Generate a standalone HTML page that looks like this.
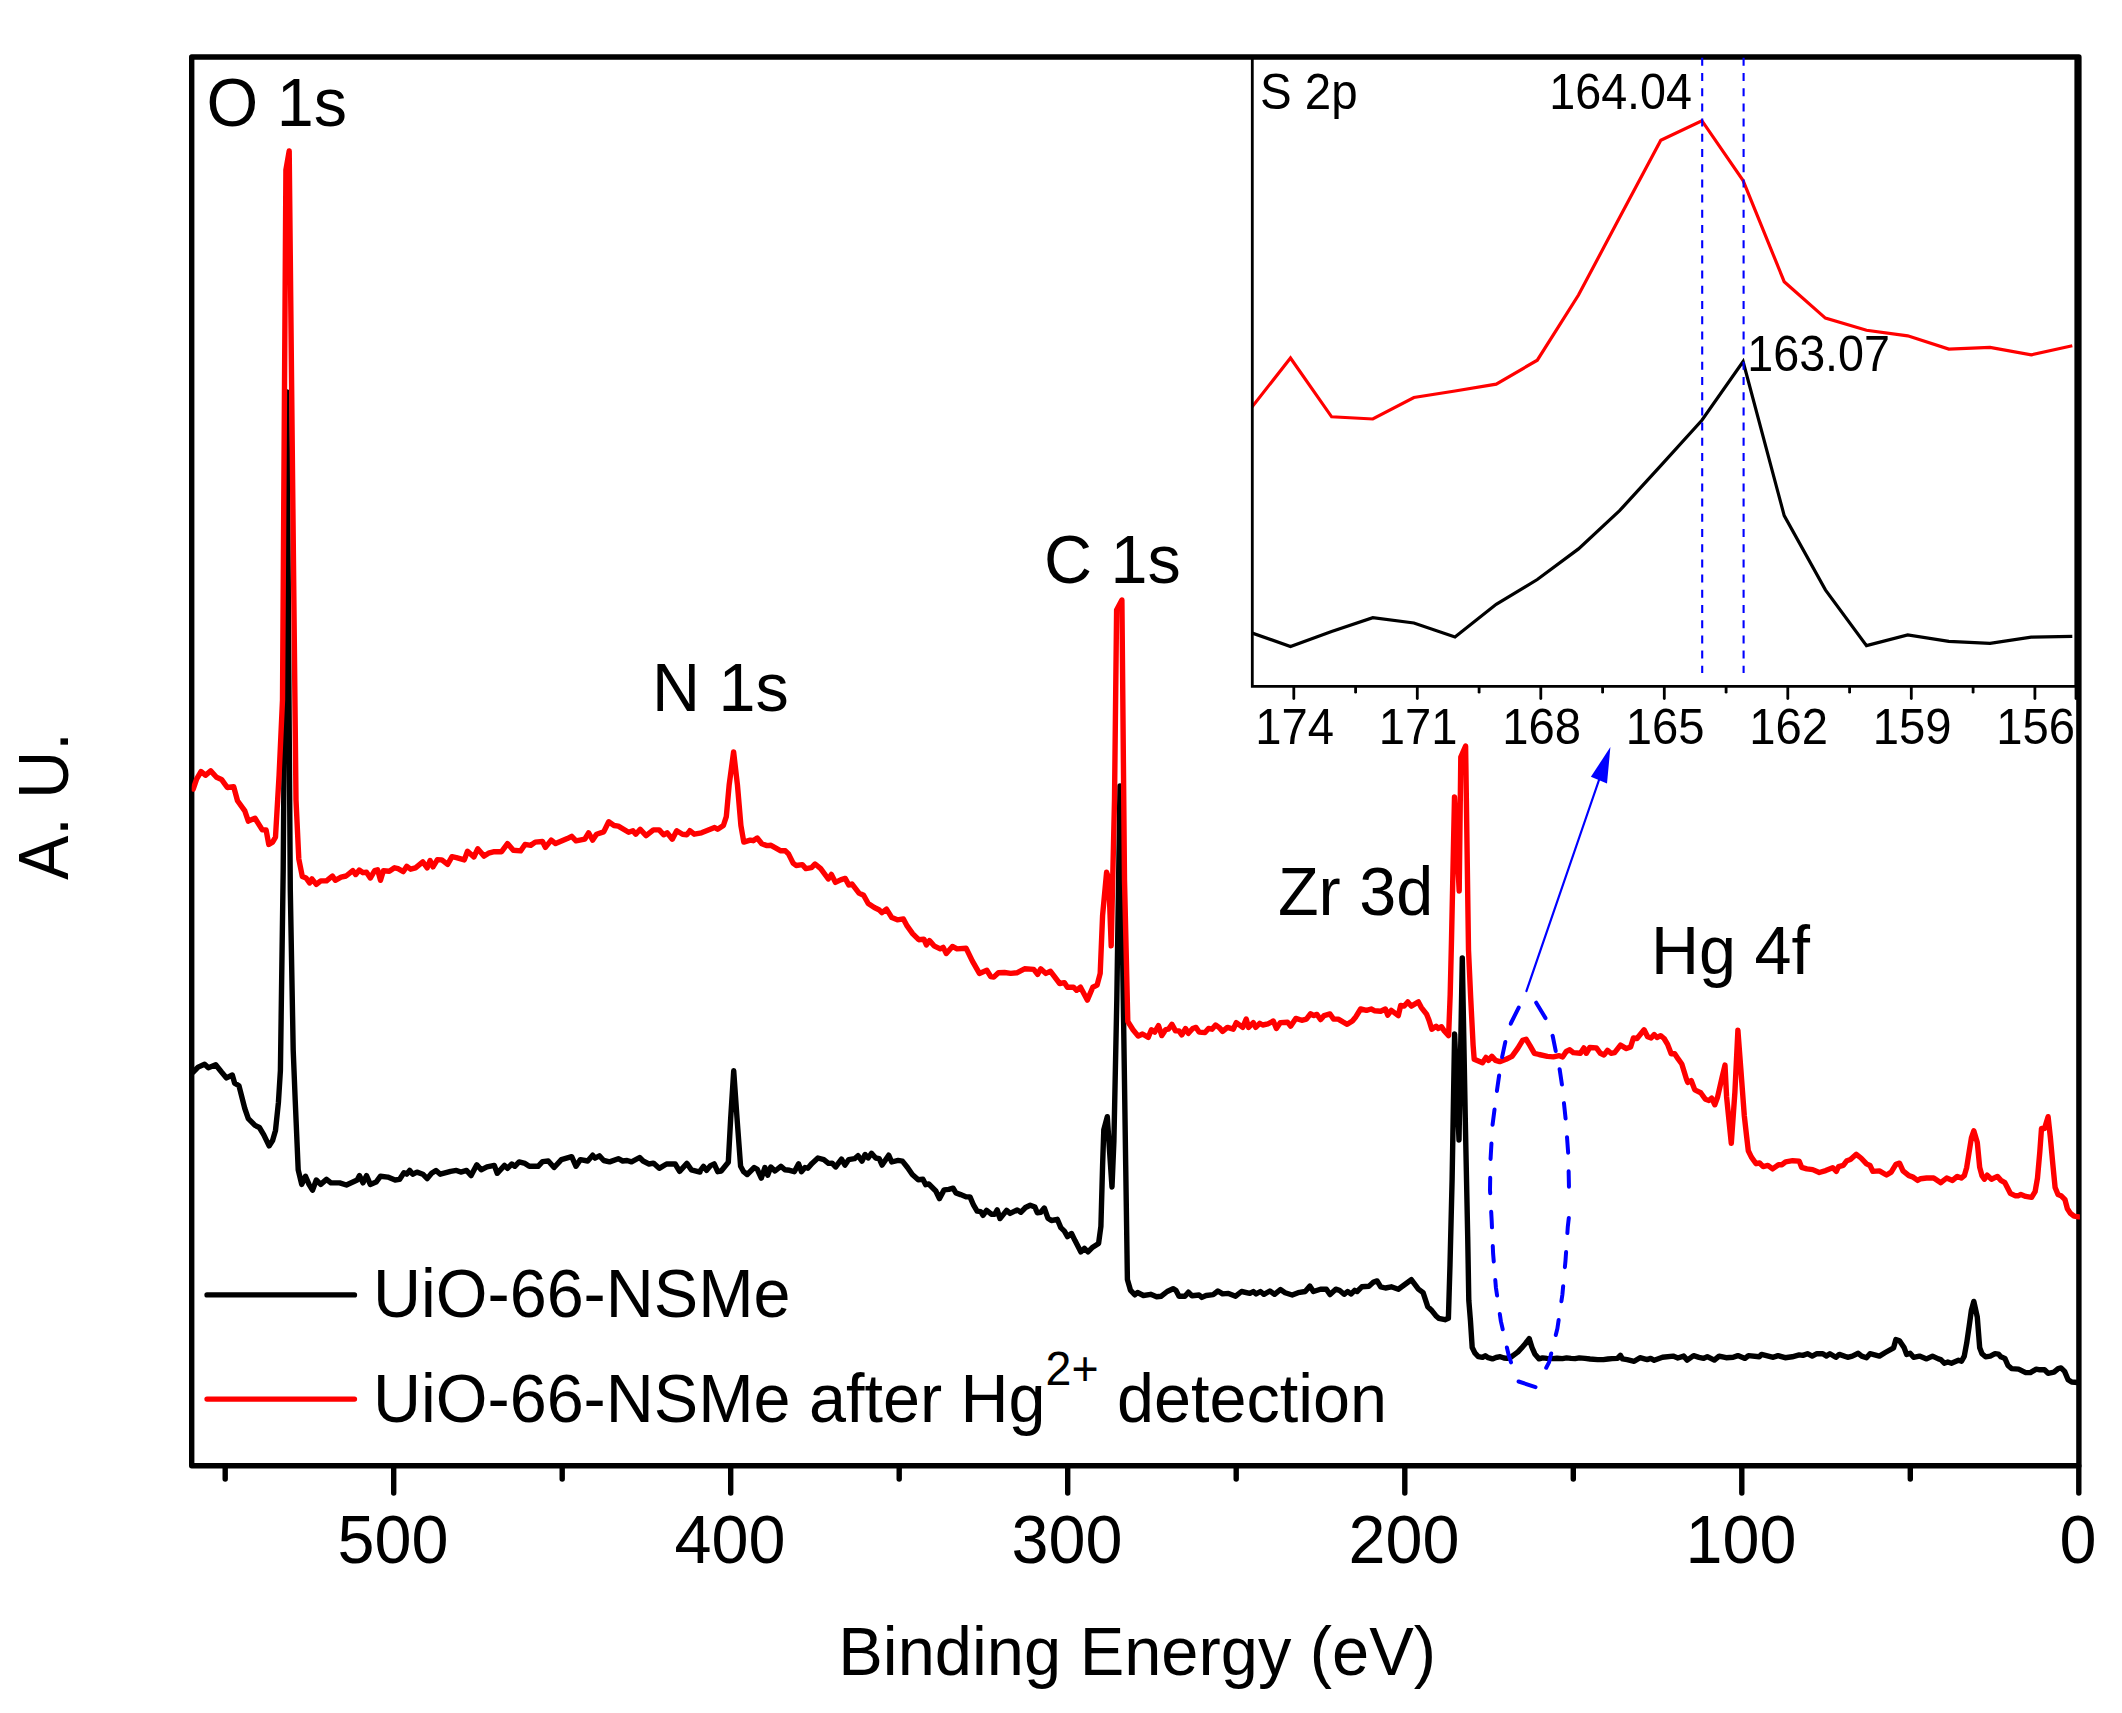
<!DOCTYPE html>
<html><head><meta charset="utf-8"><title>XPS survey</title>
<style>html,body{margin:0;padding:0;background:#fff}svg{display:block}text{font-family:"Liberation Sans",sans-serif;fill:#000}</style></head><body>
<svg width="2122" height="1713" viewBox="0 0 2122 1713">
<rect width="2122" height="1713" fill="#fff"/>
<g stroke="#000" stroke-width="5.4" fill="none" stroke-linecap="round" stroke-linejoin="round">
<rect x="191.7" y="57" width="1887.2" height="1408.8"/>
<line x1="393.7" y1="1466" x2="393.7" y2="1493"/>
<line x1="730.7" y1="1466" x2="730.7" y2="1493"/>
<line x1="1067.7" y1="1466" x2="1067.7" y2="1493"/>
<line x1="1404.8" y1="1466" x2="1404.8" y2="1493"/>
<line x1="1741.8" y1="1466" x2="1741.8" y2="1493"/>
<line x1="2078.8" y1="1466" x2="2078.8" y2="1493"/>
<line x1="225.2" y1="1466" x2="225.2" y2="1479"/>
<line x1="562.2" y1="1466" x2="562.2" y2="1479"/>
<line x1="899.2" y1="1466" x2="899.2" y2="1479"/>
<line x1="1236.2" y1="1466" x2="1236.2" y2="1479"/>
<line x1="1573.3" y1="1466" x2="1573.3" y2="1479"/>
<line x1="1910.3" y1="1466" x2="1910.3" y2="1479"/>
</g>
<clipPath id="c"><rect x="191.7" y="57" width="1888.2" height="1409"/></clipPath>
<g clip-path="url(#c)" fill="none" stroke-linejoin="round" stroke-linecap="round" stroke-width="5.4">
<polyline stroke="#000" points="193.2,1072.0 198.1,1067.1 204.6,1064.2 208.4,1067.7 215.7,1064.8 221.5,1072.0 226.5,1077.9 232.3,1075.0 234.6,1083.1 239.0,1085.8 244.8,1108.5 248.3,1118.7 255.0,1125.4 259.4,1127.5 263.8,1134.8 269.1,1145.9 272.6,1140.6 275.5,1130.4 278.4,1102.7 280.4,1070.6 283.2,870.0 286.9,392.0 290.3,890.0 293.2,1050.0 295.2,1100.0 298.2,1169.8 301.7,1184.4 305.5,1176.2 309.0,1184.4 312.5,1190.2 316.3,1180.0 320.7,1184.4 326.5,1179.4 330.9,1182.9 339.7,1182.9 346.4,1185.0 357.2,1180.0 359.5,1175.6 363.0,1182.9 366.5,1175.6 370.3,1184.4 376.1,1182.1 380.5,1176.2 387.8,1177.1 395.1,1180.0 399.5,1179.4 403.9,1172.7 406.8,1174.2 409.7,1170.4 412.6,1174.2 417.0,1172.1 422.8,1174.2 427.2,1178.6 431.6,1173.3 436.0,1170.4 440.3,1174.2 450.6,1171.3 456.4,1170.4 460.8,1172.1 466.6,1170.4 471.0,1175.6 476.8,1164.8 481.2,1169.8 487.0,1166.9 494.3,1165.4 497.2,1173.3 504.5,1165.4 507.5,1168.3 511.8,1164.0 514.8,1166.3 519.1,1161.9 525.0,1163.4 529.3,1166.3 538.1,1166.3 542.5,1161.6 548.3,1161.0 554.1,1167.5 561.4,1159.6 571.7,1156.7 576.0,1166.3 580.4,1159.6 587.7,1161.0 592.7,1155.2 595.0,1158.1 599.4,1155.8 603.7,1160.5 609.6,1161.9 618.3,1158.7 622.7,1161.0 627.1,1160.5 631.5,1161.9 639.6,1157.5 643.1,1161.0 649.0,1164.0 653.4,1163.1 659.2,1168.3 666.5,1164.0 675.2,1164.0 679.6,1171.3 686.9,1163.4 691.3,1169.8 700.0,1172.1 700.0,1171.0 703.5,1166.3 706.6,1170.3 710.6,1165.6 714.2,1163.9 717.7,1171.7 721.2,1171.0 728.3,1162.3 730.7,1117.9 733.7,1070.8 737.0,1117.9 740.6,1166.3 743.6,1171.7 747.2,1174.5 754.2,1167.5 757.3,1169.3 761.3,1178.1 764.9,1167.5 767.7,1175.2 770.8,1167.0 775.0,1171.0 780.9,1166.3 784.9,1169.8 789.6,1170.3 794.3,1171.7 798.6,1163.9 801.4,1171.7 805.0,1167.5 807.8,1168.2 812.0,1163.4 817.9,1158.0 823.8,1159.7 828.5,1163.4 832.1,1163.2 835.6,1167.0 841.5,1159.2 845.0,1165.1 848.6,1159.7 854.5,1158.7 858.0,1155.7 862.0,1161.1 865.1,1154.5 868.2,1158.0 871.5,1153.3 875.7,1158.0 879.2,1158.7 882.1,1165.1 888.7,1155.2 891.7,1162.0 898.1,1160.4 902.4,1161.1 907.5,1167.5 912.3,1174.5 918.2,1179.7 922.9,1179.2 925.7,1184.7 928.8,1184.0 935.8,1191.0 939.4,1198.6 944.1,1189.9 948.8,1189.4 953.1,1188.2 955.9,1192.9 960.6,1194.6 966.5,1196.9 970.0,1196.9 973.6,1205.2 977.1,1211.1 980.7,1211.6 983.0,1215.3 986.6,1210.4 991.3,1214.2 994.8,1214.2 997.2,1209.9 1000.0,1218.6 1006.6,1210.4 1010.1,1213.4 1017.2,1209.9 1020.8,1212.3 1025.5,1207.5 1030.2,1205.2 1034.9,1207.1 1037.3,1212.7 1040.8,1212.3 1044.3,1208.0 1047.9,1218.2 1051.4,1220.5 1057.3,1219.3 1060.8,1227.6 1064.4,1231.1 1067.5,1236.6 1071.5,1233.5 1075.0,1240.6 1080.9,1251.9 1084.4,1248.3 1088.0,1251.9 1092.7,1247.2 1098.6,1243.4 1100.9,1226.4 1102.6,1165.1 1103.8,1129.7 1107.3,1116.7 1109.7,1153.3 1112.0,1187.0 1113.9,1141.5 1116.8,1000.0 1120.0,786.0 1123.3,1000.0 1125.7,1165.1 1127.4,1279.5 1130.4,1290.1 1134.7,1294.8 1137.5,1292.5 1143.4,1295.5 1150.7,1294.3 1156.6,1296.7 1161.3,1296.2 1167.2,1291.5 1173.1,1288.7 1175.9,1290.3 1179.0,1296.2 1184.9,1296.2 1188.4,1292.2 1192.0,1295.8 1199.1,1295.0 1201.9,1297.4 1206.1,1295.5 1213.2,1294.6 1217.9,1291.0 1222.6,1293.9 1228.5,1293.4 1235.6,1296.2 1241.5,1291.5 1249.8,1293.4 1253.3,1291.5 1256.1,1293.9 1260.4,1291.5 1263.9,1294.3 1269.8,1291.0 1274.5,1294.3 1280.4,1289.6 1285.1,1292.7 1292.2,1295.0 1298.1,1292.7 1305.2,1291.5 1309.9,1286.1 1313.4,1291.5 1320.5,1289.2 1326.4,1289.2 1330.0,1294.6 1335.8,1289.2 1339.4,1290.3 1344.1,1294.3 1347.6,1291.5 1351.2,1293.9 1354.7,1290.3 1357.1,1291.5 1361.8,1286.8 1368.9,1286.3 1373.6,1282.1 1377.1,1280.9 1380.7,1286.8 1385.4,1288.0 1391.3,1286.8 1398.3,1289.2 1411.3,1279.7 1418.4,1289.2 1423.1,1292.7 1427.8,1306.8 1432.0,1310.8 1435.8,1315.7 1438.7,1318.3 1445.0,1319.7 1448.4,1318.3 1450.0,1264.8 1452.1,1180.0 1454.6,1034.0 1459.0,1140.0 1462.3,958.0 1465.5,1130.0 1467.7,1236.6 1468.8,1300.2 1470.5,1321.4 1472.2,1347.5 1475.0,1353.2 1478.3,1356.7 1482.5,1357.4 1485.3,1355.7 1488.2,1357.7 1492.4,1358.9 1496.0,1357.5 1500.2,1356.7 1504.0,1358.0 1507.2,1358.4 1511.0,1357.0 1514.3,1354.6 1518.0,1351.8 1521.4,1348.2 1525.5,1343.5 1529.2,1338.6 1532.0,1347.5 1534.8,1353.9 1539.1,1358.9 1542.6,1357.9 1547.0,1358.4 1552.5,1358.6 1557.0,1358.2 1562.4,1358.6 1566.6,1357.9 1571.0,1358.4 1575.1,1358.6 1579.3,1357.9 1585.0,1358.4 1590.0,1359.0 1597.7,1359.6 1603.4,1359.6 1608.0,1359.0 1612.0,1358.6 1617.5,1358.4 1620.4,1355.3 1622.5,1358.9 1627.1,1359.6 1634.2,1361.3 1640.0,1357.7 1647.1,1359.6 1650.7,1358.4 1654.2,1360.3 1662.5,1357.3 1673.1,1356.1 1677.8,1358.0 1683.7,1356.1 1687.2,1360.1 1693.6,1355.6 1699.0,1357.3 1703.7,1358.4 1707.3,1356.6 1714.3,1360.1 1719.1,1356.1 1726.1,1357.7 1733.2,1357.3 1737.9,1355.6 1745.0,1358.4 1748.5,1355.6 1759.2,1356.8 1761.5,1354.4 1773.3,1357.3 1778.0,1355.6 1785.1,1357.7 1792.2,1356.8 1799.2,1354.9 1802.8,1355.4 1807.5,1353.7 1812.2,1356.1 1816.9,1353.7 1822.8,1353.7 1826.4,1356.1 1829.9,1353.7 1835.8,1357.3 1839.3,1354.4 1847.6,1357.3 1852.3,1356.1 1858.2,1353.3 1861.7,1356.1 1866.5,1357.7 1870.0,1353.7 1879.4,1356.1 1885.3,1352.5 1893.6,1347.8 1895.9,1339.6 1899.5,1340.8 1904.2,1347.8 1906.6,1354.4 1910.1,1353.3 1913.6,1357.3 1919.5,1356.1 1926.6,1358.9 1932.5,1356.1 1938.4,1358.9 1940.8,1359.6 1944.3,1363.2 1947.8,1362.0 1951.4,1363.2 1958.4,1360.3 1961.5,1361.3 1964.3,1356.1 1966.7,1343.1 1969.1,1326.6 1971.4,1310.1 1973.8,1301.4 1977.3,1317.2 1979.7,1347.8 1982.0,1353.7 1985.6,1356.8 1990.3,1356.1 1995.0,1353.7 1998.5,1354.2 2000.9,1356.8 2004.9,1358.4 2008.0,1365.5 2011.5,1368.6 2018.6,1369.1 2025.7,1372.6 2030.4,1372.6 2036.3,1369.1 2039.8,1369.8 2044.5,1369.8 2048.1,1373.3 2054.0,1372.1 2058.2,1368.6 2061.0,1367.9 2064.6,1371.4 2068.1,1379.7 2071.7,1382.0 2077.5,1382.5"/>
<polyline stroke="#f00" points="193.2,789.0 196.7,778.8 201.1,771.5 205.4,775.3 210.7,770.9 216.5,777.3 221.5,779.4 227.3,787.5 233.7,786.7 237.5,800.7 244.8,810.9 248.3,821.1 255.0,818.2 262.3,829.9 266.1,829.9 268.8,844.4 272.6,842.1 275.5,837.1 279.1,775.0 282.5,700.0 285.9,170.0 289.2,151.0 292.6,480.0 296.0,800.0 298.8,859.0 302.3,876.5 306.1,878.0 309.6,883.0 311.9,878.9 316.3,884.4 320.7,880.9 326.5,880.9 332.4,876.0 335.3,880.3 341.1,877.1 346.1,876.0 352.8,870.7 355.7,874.5 359.2,870.1 363.0,872.7 366.5,872.2 370.3,878.0 374.7,870.7 377.6,869.8 380.5,880.3 383.4,870.7 389.3,871.3 394.5,867.8 398.0,868.7 403.3,871.6 406.8,866.3 410.6,869.2 415.5,867.8 422.8,861.9 427.2,867.8 430.1,860.5 433.0,866.9 437.4,859.6 441.8,859.9 447.6,864.3 452.0,856.7 456.4,857.6 464.3,859.9 467.5,851.2 473.9,857.0 477.7,848.8 484.1,856.1 488.5,853.2 494.3,851.7 501.6,851.7 507.5,843.6 513.3,850.3 520.6,850.9 525.0,844.4 530.8,845.3 535.2,842.1 542.5,841.5 545.4,847.4 551.2,840.1 555.6,843.6 567.3,838.6 571.7,836.3 576.0,840.9 584.8,839.2 588.6,832.8 592.7,840.1 596.5,834.2 603.7,831.9 608.7,821.7 614.0,825.5 618.3,826.1 628.6,832.2 632.9,830.7 635.8,834.2 640.2,829.3 646.1,835.7 653.4,829.9 659.2,829.9 663.6,834.8 667.1,832.8 672.3,839.2 676.7,830.7 682.5,834.2 686.9,834.8 689.8,830.7 694.2,834.2 701.5,832.8 714.6,827.5 717.6,829.3 723.4,825.5 726.3,816.7 729.2,784.6 733.6,751.9 737.4,784.6 740.9,825.5 743.8,842.1 750.2,840.1 753.2,840.7 757.2,838.0 761.8,843.8 767.0,845.6 771.0,845.3 780.8,850.8 785.4,850.8 788.5,853.9 793.1,863.1 796.1,865.5 802.3,864.6 805.9,868.6 811.5,867.7 815.1,864.0 820.7,868.6 828.3,879.0 831.4,874.4 835.4,882.4 840.6,879.9 845.2,878.4 848.9,885.1 851.9,883.9 859.0,893.1 863.6,895.3 868.2,903.5 874.3,907.5 878.9,909.7 881.9,912.7 886.5,909.1 891.8,917.6 897.3,919.8 903.4,918.9 907.1,925.9 912.6,933.6 918.7,939.7 923.9,939.1 926.4,944.9 929.5,940.6 934.0,945.8 940.2,948.9 943.2,947.4 946.3,953.5 952.4,946.4 957.0,948.9 966.2,948.3 972.4,961.2 979.4,973.4 986.8,970.3 990.7,976.5 993.8,977.1 998.4,972.8 1004.5,972.5 1010.7,973.4 1016.8,972.8 1024.5,968.8 1033.7,969.4 1037.6,974.3 1040.7,968.8 1045.9,973.4 1050.5,971.3 1059.7,983.5 1064.3,982.6 1067.4,987.2 1073.5,987.2 1076.6,990.3 1080.5,987.2 1087.3,1000.1 1092.8,987.2 1097.1,985.1 1100.2,973.4 1102.6,915.2 1106.6,872.3 1108.7,878.4 1111.2,945.8 1114.5,800.0 1116.6,610.0 1121.9,600.0 1124.5,880.0 1127.8,1021.5 1133.0,1029.7 1138.2,1036.1 1142.5,1034.0 1148.3,1037.3 1151.4,1029.7 1154.7,1032.1 1158.5,1025.5 1161.8,1035.6 1165.6,1029.7 1168.4,1029.2 1171.9,1024.3 1175.5,1030.9 1179.0,1030.9 1181.8,1034.9 1185.6,1028.5 1188.4,1033.3 1192.7,1028.5 1196.0,1027.4 1199.1,1032.1 1205.0,1032.5 1208.5,1028.5 1212.0,1029.2 1215.6,1025.0 1219.1,1027.4 1222.6,1031.4 1227.4,1027.4 1233.3,1029.2 1236.3,1022.6 1242.7,1027.4 1246.2,1019.1 1248.6,1027.4 1253.3,1022.6 1255.7,1027.4 1259.7,1023.3 1262.7,1025.0 1267.9,1023.8 1273.3,1021.0 1276.4,1028.5 1280.4,1022.6 1287.5,1022.2 1290.6,1026.2 1295.8,1018.4 1301.7,1020.3 1306.4,1019.1 1310.6,1013.7 1313.4,1015.6 1317.0,1014.4 1320.5,1019.6 1324.1,1015.6 1330.0,1013.9 1333.5,1019.1 1338.2,1019.1 1342.9,1021.9 1347.2,1024.3 1352.4,1021.0 1355.9,1016.7 1360.6,1009.0 1366.5,1010.4 1371.2,1009.0 1374.8,1010.8 1380.7,1011.3 1385.4,1009.0 1387.7,1015.1 1391.3,1010.4 1398.3,1015.6 1400.7,1005.4 1404.2,1006.1 1407.8,1001.9 1411.3,1006.1 1418.4,1001.9 1421.2,1007.3 1426.7,1014.4 1429.0,1020.3 1431.8,1029.2 1436.1,1026.2 1438.4,1028.5 1441.5,1026.7 1444.3,1030.9 1448.6,1035.6 1450.2,994.3 1451.5,940.0 1454.5,797.0 1459.2,891.0 1460.8,757.0 1465.6,746.0 1468.5,950.0 1470.7,997.9 1473.1,1045.1 1474.2,1059.2 1482.5,1062.8 1486.0,1057.4 1488.4,1060.4 1491.9,1056.4 1495.5,1060.4 1499.7,1061.6 1506.1,1059.2 1512.0,1056.4 1517.9,1048.2 1522.6,1040.4 1526.1,1039.2 1529.7,1045.1 1534.4,1053.3 1539.1,1054.5 1547.4,1056.4 1553.3,1056.9 1559.2,1055.7 1562.7,1056.9 1566.2,1051.5 1569.8,1049.8 1573.3,1052.6 1580.4,1053.3 1583.9,1047.9 1586.3,1053.3 1589.8,1047.5 1596.4,1047.9 1600.4,1053.3 1604.0,1055.0 1607.5,1050.3 1611.0,1053.3 1614.6,1052.6 1620.5,1045.1 1626.4,1048.6 1630.6,1047.0 1633.4,1038.0 1637.0,1038.5 1644.1,1029.8 1647.6,1036.8 1651.1,1038.0 1654.2,1034.5 1657.0,1037.5 1660.6,1035.7 1664.1,1038.5 1667.6,1044.4 1671.2,1053.8 1674.7,1053.8 1678.3,1059.2 1681.8,1064.0 1686.5,1079.3 1687.7,1082.4 1691.2,1080.5 1694.8,1089.9 1700.7,1092.7 1705.4,1099.3 1708.9,1100.5 1711.7,1098.2 1714.8,1104.8 1717.6,1097.0 1721.9,1078.1 1725.0,1065.1 1726.6,1097.0 1731.3,1143.4 1734.9,1092.3 1737.9,1030.2 1740.8,1068.7 1744.3,1115.8 1746.7,1137.1 1748.3,1150.8 1751.4,1157.1 1756.1,1163.7 1759.6,1163.0 1763.2,1166.6 1767.9,1165.4 1772.6,1168.9 1778.5,1164.7 1782.0,1164.7 1785.6,1161.8 1792.6,1160.7 1799.2,1161.1 1801.6,1167.3 1806.8,1168.9 1812.7,1169.6 1819.3,1172.5 1825.7,1170.6 1832.7,1167.7 1836.3,1171.3 1838.6,1166.6 1843.3,1165.4 1846.9,1160.7 1850.4,1159.5 1856.3,1154.3 1861.0,1158.0 1866.5,1163.9 1870.0,1165.5 1872.8,1171.4 1879.4,1170.9 1886.5,1175.0 1891.2,1172.1 1895.9,1164.3 1899.5,1163.2 1903.0,1170.9 1908.9,1175.7 1912.5,1176.8 1917.6,1180.4 1920.7,1178.7 1926.6,1178.0 1933.7,1178.0 1940.8,1182.7 1946.7,1178.0 1952.5,1180.4 1957.3,1176.4 1961.3,1178.0 1964.3,1175.7 1966.7,1167.4 1969.1,1152.1 1971.4,1137.9 1973.8,1130.8 1977.3,1142.6 1979.7,1167.4 1982.0,1175.7 1984.4,1179.2 1987.2,1175.2 1991.5,1179.2 1997.4,1176.4 2000.9,1180.4 2004.9,1182.7 2010.3,1193.3 2015.0,1195.7 2018.6,1195.7 2020.9,1194.5 2025.7,1196.4 2031.6,1197.4 2035.1,1191.7 2037.5,1178.0 2039.8,1152.1 2041.5,1128.5 2044.5,1128.5 2048.1,1116.7 2050.4,1137.9 2052.8,1163.9 2055.1,1187.5 2058.0,1194.5 2061.0,1195.7 2065.0,1199.7 2067.4,1208.7 2070.5,1213.4 2074.0,1216.2 2078.7,1216.9"/>
</g>
<clipPath id="ci"><rect x="1252.3" y="57" width="822.3" height="629"/></clipPath>
<g clip-path="url(#ci)" fill="none" stroke-linejoin="miter" stroke-width="3.2">
<polyline stroke="#f00" points="1249.3,410.4 1290.5,358.0 1331.6,416.8 1372.8,419.0 1413.9,397.5 1455.0,391.0 1496.2,384.2 1537.3,360.2 1578.5,295.0 1619.6,217.6 1660.8,140.2 1701.9,120.7 1743.1,180.6 1784.2,281.7 1825.4,318.1 1866.5,330.3 1907.7,335.8 1948.8,349.1 1990.0,347.4 2031.2,354.9 2072.3,345.8"/>
<polyline stroke="#000" points="1249.3,632.0 1290.5,646.5 1331.6,631.6 1372.8,617.7 1413.9,623.0 1455.0,637.0 1496.2,604.3 1537.3,579.5 1578.5,548.9 1619.6,510.7 1660.8,465.7 1701.9,420.2 1743.1,361.5 1784.2,515.6 1825.4,589.9 1866.5,645.6 1907.7,635.0 1948.8,641.4 1990.0,643.4 2031.2,637.2 2072.3,636.3"/>
</g>
<line x1="1702.2" y1="57.8" x2="1702.2" y2="673" stroke="#00f" stroke-width="2.1" stroke-dasharray="8 7.2"/>
<line x1="1743.6" y1="57.8" x2="1743.6" y2="673" stroke="#00f" stroke-width="2.1" stroke-dasharray="8 7.2"/>
<g stroke="#000" stroke-width="2.8" fill="none" stroke-linecap="round">
<path d="M1252.3,57 V686.3 H2075.8 V57"/>
<line x1="1293.8" y1="686.3" x2="1293.8" y2="698.5"/>
<line x1="1417.3" y1="686.3" x2="1417.3" y2="698.5"/>
<line x1="1540.8" y1="686.3" x2="1540.8" y2="698.5"/>
<line x1="1664.3" y1="686.3" x2="1664.3" y2="698.5"/>
<line x1="1787.8" y1="686.3" x2="1787.8" y2="698.5"/>
<line x1="1911.3" y1="686.3" x2="1911.3" y2="698.5"/>
<line x1="2034.9" y1="686.3" x2="2034.9" y2="698.5"/>
<line x1="2076.0" y1="686.3" x2="2076.0" y2="698.5"/>
<line x1="1355.6" y1="686.3" x2="1355.6" y2="692.2"/>
<line x1="1479.1" y1="686.3" x2="1479.1" y2="692.2"/>
<line x1="1602.6" y1="686.3" x2="1602.6" y2="692.2"/>
<line x1="1726.1" y1="686.3" x2="1726.1" y2="692.2"/>
<line x1="1849.6" y1="686.3" x2="1849.6" y2="692.2"/>
<line x1="1973.1" y1="686.3" x2="1973.1" y2="692.2"/>
</g>
<text transform="translate(1294.6 744) scale(1 1.042)" font-size="47.2" text-anchor="middle">174</text>
<text transform="translate(1418.1 744) scale(1 1.042)" font-size="47.2" text-anchor="middle">171</text>
<text transform="translate(1541.6 744) scale(1 1.042)" font-size="47.2" text-anchor="middle">168</text>
<text transform="translate(1665.1 744) scale(1 1.042)" font-size="47.2" text-anchor="middle">165</text>
<text transform="translate(1788.6 744) scale(1 1.042)" font-size="47.2" text-anchor="middle">162</text>
<text transform="translate(1912.1 744) scale(1 1.042)" font-size="47.2" text-anchor="middle">159</text>
<text transform="translate(2035.7 744) scale(1 1.042)" font-size="47.2" text-anchor="middle">156</text>
<text transform="translate(1260 109.4) scale(1 1.042)" font-size="47.5">S 2p</text>
<text transform="translate(1549.2 109.4) scale(1 1.060)" font-size="46.7">164.04</text>
<text transform="translate(1747.2 370.6) scale(1 1.060)" font-size="46.7">163.07</text>
<polyline points="1536.2,1002.7 1545.5,1018.1 1552.7,1036.0 1556.0,1052.5 1559.7,1069.6 1562.2,1086.4 1565.8,1120.6 1568.3,1154.8 1569.0,1189.0" fill="none" stroke="#00f" stroke-width="4" stroke-linecap="round" stroke-linejoin="round" stroke-dasharray="18 19 15.5 18.7 15.5 18.7 15.5 18.7 15.5 18.7 15.5 18.7 15.5 18.7 15.5 18.7 15.5 18.7 15.5 18.7 15.5 18.7 15.5 18.7 15.5 18.7 15.5 18.7"/>
<polyline points="1568.8,1217.9 1567.8,1226.7 1565.5,1260.6 1562.4,1294.5 1557.4,1328.5 1549.0,1362.4 1545.6,1369.0" fill="none" stroke="#00f" stroke-width="4" stroke-linecap="round" stroke-linejoin="round" stroke-dasharray="15.2 19.05"/>
<polyline points="1518.7,1007.6 1511.0,1023.0 1505.4,1041.6 1501.9,1058.0 1499.1,1075.6 1496.7,1092.3 1492.5,1125.3 1490.5,1160.0 1490.0,1190.0 1491.7,1221.0 1493.1,1253.5 1495.9,1287.5 1500.9,1321.4 1508.7,1355.3 1511.5,1363.8" fill="none" stroke="#00f" stroke-width="4" stroke-linecap="round" stroke-linejoin="round" stroke-dasharray="18 19 15.5 18.7 15.5 18.7 15.5 18.7 15.5 18.7 15.5 18.7 15.5 18.7 15.5 18.7 15.5 18.7 15.5 18.7 15.5 18.7 15.5 18.7 15.5 18.7 15.5 18.7"/>
<line x1="1518.6" y1="1381.5" x2="1535.5" y2="1387.1" stroke="#00f" stroke-width="4" stroke-linecap="round"/>
<line x1="1526.4" y1="991.2" x2="1599" y2="780" stroke="#00f" stroke-width="2.2" stroke-linecap="round"/>
<polygon points="1610.4,747.1 1590.9,776.7 1607,783.5" fill="#00f"/>
<text transform="translate(393.0 1563) scale(1 1.042)" font-size="66.5" text-anchor="middle">500</text>
<text transform="translate(730.0 1563) scale(1 1.042)" font-size="66.5" text-anchor="middle">400</text>
<text transform="translate(1067.0 1563) scale(1 1.042)" font-size="66.5" text-anchor="middle">300</text>
<text transform="translate(1404.1 1563) scale(1 1.042)" font-size="66.5" text-anchor="middle">200</text>
<text transform="translate(1741.1 1563) scale(1 1.042)" font-size="66.5" text-anchor="middle">100</text>
<text transform="translate(2078.1 1563) scale(1 1.042)" font-size="66.5" text-anchor="middle">0</text>
<text transform="translate(838.3 1674.7) scale(1 1.030)" font-size="66.8">Binding Energy (eV)</text>
<text transform="translate(68.2 880) rotate(-90) scale(1 1.055)" font-size="66.5">A. U.</text>
<text transform="translate(206.6 125.8) scale(1 1.042)" font-size="66.5">O 1s</text>
<text transform="translate(652 711.4) scale(1 1.042)" font-size="66.5">N 1s</text>
<text transform="translate(1044 582.7) scale(1 1.042)" font-size="66.5">C 1s</text>
<text transform="translate(1278 915) scale(1 1.042)" font-size="66.5">Zr 3d</text>
<text transform="translate(1651 973.6) scale(1 1.042)" font-size="66.5">Hg 4f</text>
<line x1="207" y1="1294.9" x2="354.5" y2="1294.9" stroke="#000" stroke-width="5.3" stroke-linecap="round"/>
<line x1="207" y1="1399.1" x2="354.5" y2="1399.1" stroke="#f00" stroke-width="5.3" stroke-linecap="round"/>
<text transform="translate(373 1317.3) scale(1 1.042)" font-size="66.5">UiO-66-NSMe</text>
<text transform="translate(373 1422) scale(1 1.030)" font-size="66.5">UiO-66-NSMe after Hg<tspan font-size="46.5" dy="-35.7">2+</tspan><tspan dy="35.7"> detection</tspan></text>
</svg></body></html>
